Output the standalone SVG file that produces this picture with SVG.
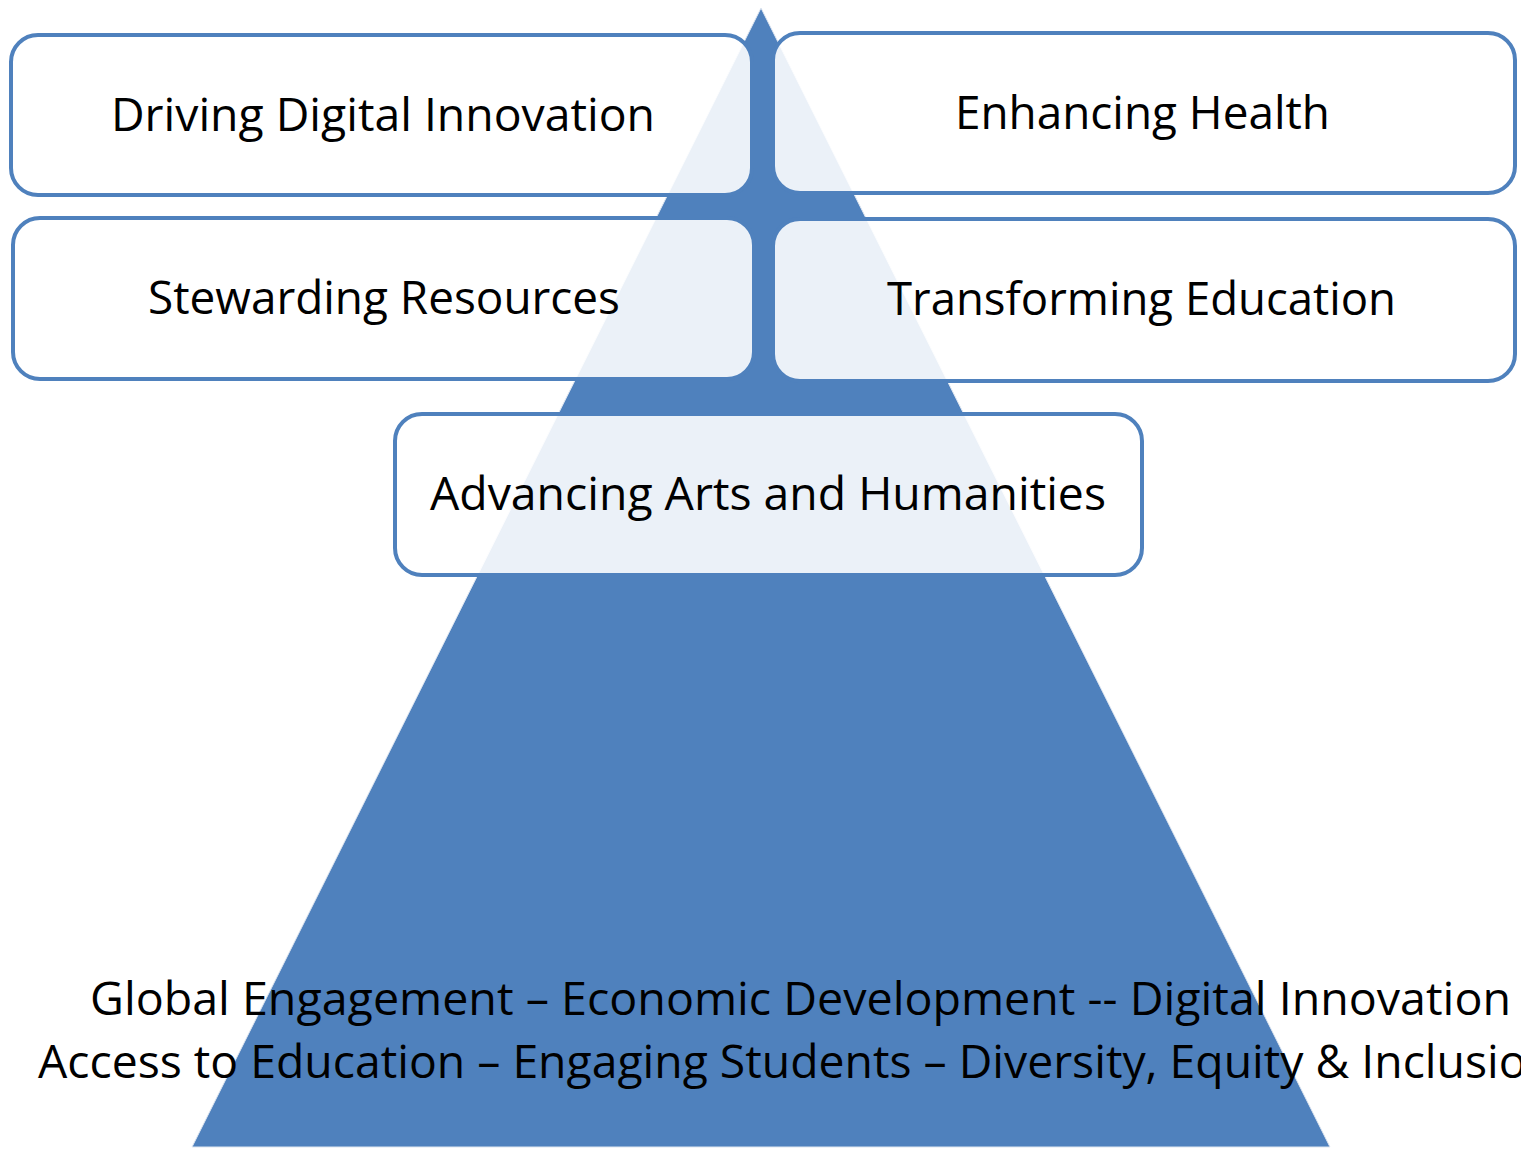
<svg xmlns="http://www.w3.org/2000/svg" width="1521" height="1149" viewBox="0 0 1521 1149">
<style>
.box{fill:#ffffff;fill-opacity:0.89;stroke:#4F81BD;stroke-width:4}
.lbl{font-family:"Open Sans","Noto Sans","Liberation Sans",sans-serif;font-size:45px;fill:#000000}
.base{font-family:"Open Sans","Noto Sans","Liberation Sans",sans-serif;font-size:46px;fill:#000000}
</style>
<rect width="1521" height="1149" fill="#ffffff"/>
<g id="pyramid">
<polygon points="761,8 192,1147 1330,1147" fill="#4F81BD" stroke="#dfe6f0" stroke-width="1"/>
</g>
<g id="node-driving-digital">
<rect class="box" x="11" y="35" width="741" height="160" rx="27"/>
<text class="lbl" x="111" y="131" textLength="544" lengthAdjust="spacingAndGlyphs">Driving Digital Innovation</text>
</g>
<g id="node-enhancing-health">
<rect class="box" x="773" y="33" width="742" height="160" rx="27"/>
<text class="lbl" x="955" y="129" textLength="375" lengthAdjust="spacingAndGlyphs">Enhancing Health</text>
</g>
<g id="node-stewarding">
<rect class="box" x="13" y="218" width="741" height="161" rx="27"/>
<text class="lbl" x="148" y="314" textLength="472" lengthAdjust="spacingAndGlyphs">Stewarding Resources</text>
</g>
<g id="node-transforming">
<rect class="box" x="773" y="219" width="742" height="162" rx="27"/>
<text class="lbl" x="887" y="315" textLength="509" lengthAdjust="spacingAndGlyphs">Transforming Education</text>
</g>
<g id="node-advancing-arts">
<rect class="box" x="395" y="414" width="747" height="161" rx="27"/>
<text class="lbl" x="430" y="510" textLength="676" lengthAdjust="spacingAndGlyphs">Advancing Arts and Humanities</text>
</g>
<g id="base-text">
<text class="base" x="90" y="1015" textLength="1421" lengthAdjust="spacingAndGlyphs">Global Engagement – Economic Development -- Digital Innovation</text>
<text class="base" x="38" y="1078" textLength="1517" lengthAdjust="spacingAndGlyphs">Access to Education – Engaging Students – Diversity, Equity &amp; Inclusion</text>
</g>
</svg>
